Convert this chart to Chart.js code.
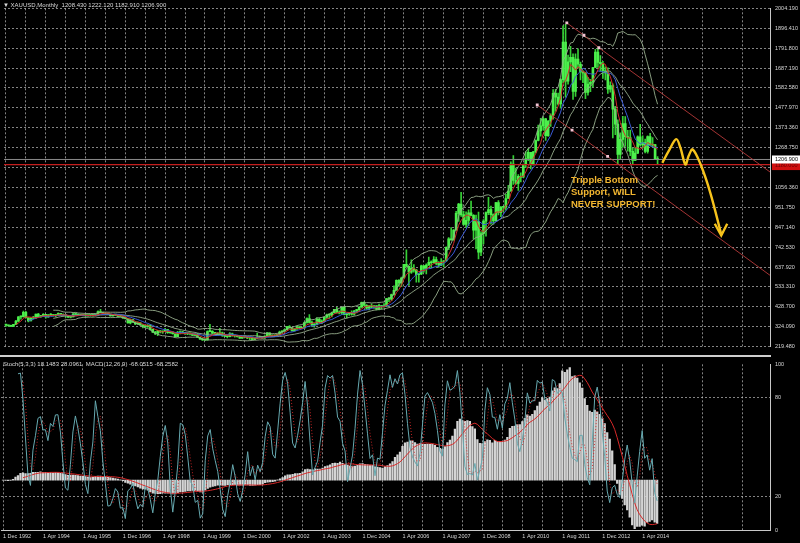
<!DOCTYPE html>
<html>
<head>
<meta charset="utf-8">
<script src="https://cdn.jsdelivr.net/npm/chart.js@4.4.1/dist/chart.umd.min.js"></script>
<style>
html, body { margin: 0; padding: 0; background: #000; }
#wrap { position: relative; width: 800px; height: 543px; background: #000; overflow: hidden; font-family: "Liberation Sans", Arial, sans-serif; }
#topChart { position: absolute; left: 0; top: 0; }
#bottomChart { position: absolute; left: 0; top: 356px; }
.hdr { position: absolute; color: #d8d8d8; font-size: 6px; line-height: 7px; white-space: pre; }
#sep { position: absolute; left: 0; top: 355px; width: 771px; height: 2px; background: #cfcfcf; }
#note { position: absolute; left: 571px; top: 174px; color: #f2b630; font-weight: bold; font-size: 9.5px; line-height: 12px; white-space: pre; }
</style>
</head>
<body>
<div id="wrap">
  <canvas id="topChart" width="800" height="355"></canvas>
  <div id="sep"></div>
  <canvas id="bottomChart" width="800" height="187"></canvas>
  <div class="hdr" style="left:3px;top:2px;">▼ XAUUSD,Monthly  1208.430 1222.120 1182.910 1206.900</div>
  <div class="hdr" style="left:3px;top:361px;">Stoch(5,3,3) 18.1483 28.0961  MACD(12,26,9) -68.0515 -68.2582</div>
  <div id="note">Tripple Bottom
Support, WILL
NEVER SUPPORT!</div>
</div>
<script>
// XAUUSD monthly, first bar = Dec 1992, last bar = Oct 2014 (open of each bar = previous close)
const firstOpen = 334;
const lastOpen = 1208.43;

const closes = [
  333, // 1992 Dec
  330, 327, 337, 354, 377, 378, 401, 372, 355, 370, 371, 391, // 1993
  378, 381, 390, 376, 387, 386, 384, 385, 395, 389, 383, 383, // 1994
  375, 377, 392, 389, 385, 387, 384, 382, 384, 383, 387, 387, // 1995
  405, 400, 396, 392, 391, 382, 386, 386, 379, 380, 371, 369, // 1996
  345, 362, 349, 340, 345, 334, 326, 325, 332, 311, 296, 290, // 1997
  303, 297, 301, 310, 293, 296, 288, 273, 294, 292, 294, 288, // 1998
  287, 287, 279, 286, 268, 261, 255, 255, 299, 300, 291, 290, // 1999
  283, 293, 277, 274, 272, 288, 276, 277, 273, 264, 270, 273, // 2000
  266, 267, 258, 263, 267, 271, 265, 273, 293, 279, 275, 278, // 2001
  282, 297, 302, 309, 326, 318, 304, 313, 324, 317, 319, 347, // 2002
  368, 348, 334, 336, 364, 346, 354, 375, 388, 386, 398, 416, // 2003
  400, 397, 427, 388, 393, 395, 391, 407, 415, 428, 453, 438, // 2004
  423, 434, 428, 435, 417, 436, 430, 433, 473, 470, 495, 517, // 2005
  569, 556, 582, 654, 643, 613, 633, 623, 599, 603, 646, 632, // 2006
  650, 665, 662, 679, 659, 650, 666, 672, 743, 789, 783, 834, // 2007
  923, 972, 916, 864, 886, 926, 912, 834, 880, 718, 816, 882, // 2008
  927, 942, 916, 883, 979, 927, 955, 955, 1001, 1040, 1182, 1096, // 2009
  1081, 1118, 1113, 1179, 1212, 1245, 1181, 1247, 1307, 1357, 1384, 1421, // 2010
  1332, 1410, 1439, 1556, 1536, 1500, 1628, 1826, 1620, 1722, 1746, 1566, // 2011
  1737, 1709, 1669, 1664, 1560, 1604, 1614, 1692, 1773, 1719, 1712, 1675, // 2012
  1663, 1578, 1596, 1472, 1393, 1234, 1313, 1396, 1327, 1323, 1250, 1202, // 2013
  1240, 1326, 1284, 1296, 1250, 1327, 1282, 1286, 1208, 1206.9 // 2014
];

const highs = [
  337,
  334, 333, 338, 358, 378, 381, 407, 406, 373, 373, 380, 392,
  395, 385, 394, 390, 389, 394, 389, 389, 398, 396, 393, 384,
  384, 380, 396, 397, 393, 391, 390, 390, 387, 387, 390, 391,
  409, 416, 402, 396, 395, 391, 389, 390, 386, 384, 382, 374,
  369, 365, 364, 350, 350, 346, 336, 331, 336, 336, 313, 300,
  306, 304, 303, 316, 311, 299, 296, 288, 301, 303, 300, 295,
  293, 291, 291, 289, 290, 270, 265, 261, 303, 338, 305, 293,
  294, 316, 297, 284, 278, 294, 291, 280, 280, 275, 272, 275,
  274, 268, 270, 266, 291, 275, 272, 278, 294, 293, 282, 282,
  284, 302, 305, 311, 327, 331, 322, 315, 327, 325, 323, 349,
  372, 389, 354, 341, 373, 371, 361, 376, 391, 393, 402, 417,
  427, 409, 428, 430, 395, 401, 409, 411, 416, 431, 455, 456,
  441, 438, 446, 437, 436, 444, 438, 447, 474, 480, 497, 541,
  572, 573, 586, 654, 730, 645, 677, 653, 627, 605, 650, 648,
  657, 692, 673, 695, 692, 669, 684, 674, 746, 795, 848, 837,
  933, 975, 1033, 934, 931, 941, 988, 916, 913, 929, 827, 890,
  931, 1007, 961, 920, 981, 990, 960, 960, 1024, 1070, 1195, 1227,
  1162, 1127, 1136, 1182, 1249, 1265, 1245, 1250, 1310, 1388, 1424, 1431,
  1424, 1412, 1447, 1576, 1577, 1557, 1632, 1912, 1920, 1758, 1803, 1764,
  1764, 1791, 1721, 1676, 1667, 1640, 1629, 1693, 1788, 1796, 1755, 1724,
  1696, 1690, 1617, 1606, 1487, 1416, 1347, 1434, 1433, 1361, 1362, 1267,
  1270, 1332, 1392, 1331, 1315, 1332, 1345, 1322, 1287, 1222.12
];

const lows = [
  326,
  326, 326, 326, 336, 352, 365, 375, 370, 350, 355, 366, 368,
  376, 374, 380, 370, 374, 383, 380, 377, 384, 385, 380, 374,
  372, 371, 376, 388, 383, 383, 382, 380, 381, 380, 381, 385,
  386, 398, 394, 388, 389, 380, 380, 384, 377, 377, 369, 366,
  344, 340, 347, 336, 337, 334, 318, 320, 321, 306, 294, 283,
  278, 292, 290, 299, 289, 290, 286, 271, 273, 287, 291, 284,
  283, 281, 277, 278, 268, 256, 253, 251, 254, 297, 288, 280,
  280, 282, 274, 272, 266, 271, 276, 270, 270, 263, 263, 268,
  262, 255, 255, 255, 263, 265, 263, 264, 272, 276, 272, 272,
  277, 282, 289, 300, 306, 318, 301, 301, 311, 313, 315, 316,
  344, 345, 326, 322, 335, 342, 341, 353, 368, 368, 377, 398,
  396, 392, 390, 387, 371, 385, 386, 386, 398, 410, 426, 433,
  416, 414, 425, 421, 414, 414, 418, 428, 431, 457, 463, 490,
  516, 538, 536, 582, 640, 543, 606, 612, 560, 560, 600, 612,
  603, 648, 636, 661, 651, 638, 647, 640, 671, 731, 781, 781,
  834, 880, 907, 860, 848, 858, 909, 786, 735, 682, 700, 761,
  802, 916, 866, 866, 883, 914, 905, 931, 940, 1001, 1040, 1075,
  1075, 1044, 1088, 1113, 1165, 1201, 1157, 1177, 1242, 1305, 1330, 1361,
  1308, 1329, 1381, 1419, 1462, 1495, 1478, 1610, 1535, 1604, 1670, 1523,
  1540, 1688, 1627, 1612, 1527, 1546, 1565, 1590, 1692, 1692, 1673, 1635,
  1626, 1555, 1562, 1321, 1338, 1180, 1208, 1271, 1276, 1251, 1227, 1182,
  1202, 1238, 1277, 1268, 1241, 1240, 1282, 1273, 1207, 1182.91
];

// time axis labels, one every 16 bars starting at bar 0
const dateLabels = ['1 Dec 1992', '1 Apr 1994', '1 Aug 1995', '1 Dec 1996', '1 Apr 1998', '1 Aug 1999',
  '1 Dec 2000', '1 Apr 2002', '1 Aug 2003', '1 Dec 2004', '1 Apr 2006', '1 Aug 2007', '1 Dec 2008',
  '1 Apr 2010', '1 Aug 2011', '1 Dec 2012', '1 Apr 2014'];

// price scale labels, bottom to top
const priceTickLabels = ['219.480', '324.090', '428.700', '533.310', '637.920', '742.530', '847.140',
  '951.750', '1056.360', '1164.140', '1268.750', '1373.360', '1477.970', '1582.580', '1687.190',
  '1791.800', '1896.410', '2004.190'];
const priceMin = 219.48, priceMax = 2004.19;

const stochLevels = [0, 20, 80, 100];

const bidPrice = 1206.9, bidLabel = '1206.900';
const supportPrice = 1180, supportLabel = '1180.000';

// drawn objects, [bar index, price]
const trendUpper = [[225.5, 1927], [232.4, 1862], [238.4, 1796], [307.2, 1141]];
const trendLower = [[213.6, 1494], [227.6, 1362], [241.9, 1223], [307.2, 596]];
const arrowPath = [[263.9, 1189], [266.5, 1252], [269.5, 1314], [271.2, 1268], [273.2, 1180],
  [274.5, 1226], [276.1, 1260], [279.2, 1184], [283.2, 1031], [287.6, 812]];
const arrowHead = [[285.0, 868], [287.6, 806], [290.0, 868]];

// ---- settings ----
const xMin = -0.8, xMax = 307.2;
const family = "'Liberation Sans', Arial, sans-serif";
const txtColor = '#d8d8d8';
const gridColor = 'rgba(195,195,195,0.68)';
const bandColor = 'rgba(150,172,140,0.9)';

const n = closes.length;
const opens = closes.map((c, i) => (i === 0 ? firstOpen : closes[i - 1]));
opens[n - 1] = lastOpen;

function sma(src, p) {
    return src.map((v, i) => {
        if (i < p - 1) return null;
        const w = src.slice(i - p + 1, i + 1);
        if (w.some(x => x === null)) return null;
        return w.reduce((a, b) => a + b, 0) / p;
    });
}

function ema(src, p) {
    const k = 2 / (p + 1);
    let e = src[0];
    return src.map((v, i) => (i === 0 ? e : (e = v * k + e * (1 - k))));
}

function bollinger(src, p, dev) {
    const mid = sma(src, p);
    const up = [], lo = [];
    src.forEach((v, i) => {
        if (mid[i] === null) { up.push(null); lo.push(null); return; }
        const w = src.slice(i - p + 1, i + 1);
        const sd = Math.sqrt(w.reduce((a, b) => a + (b - mid[i]) ** 2, 0) / p);
        up.push(mid[i] + dev * sd);
        lo.push(mid[i] - dev * sd);
    });
    return { mid, up, lo };
}

function stochastic(kp, slow, dp) {
    const main = closes.map((c, i) => {
        if (i < kp + slow - 2) return null;
        let num = 0, den = 0;
        for (let j = i - slow + 1; j <= i; j++) {
            const hh = Math.max(...highs.slice(j - kp + 1, j + 1));
            const ll = Math.min(...lows.slice(j - kp + 1, j + 1));
            num += closes[j] - ll;
            den += hh - ll;
        }
        return den ? 100 * num / den : 100;
    });
    return { main, signal: sma(main, dp) };
}

const pts = arr => arr.map((v, i) => (v === null ? null : { x: i, y: v })).filter(Boolean);
const xy = arr => arr.map(([x, y]) => ({ x, y }));

const bb = bollinger(closes, 20, 2);
const maFast = sma(closes, 5);
const maSlow = sma(closes, 10);

const e12 = ema(closes, 12), e26 = ema(closes, 26);
const macdMain = closes.map((c, i) => e12[i] - e26[i]);
const macdSignal = sma(macdMain, 9);
const st = stochastic(5, 3, 3);

const gridMonths = [];
for (let v = 0; v <= 304; v += 8) gridMonths.push(v);

function xAxis(showLabels, heightPx) {
    return {
        type: 'linear', min: xMin, max: xMax, offset: false,
        grid: { color: gridColor, lineWidth: 1, drawTicks: false, offset: false },
        border: { display: showLabels, color: '#c8c8c8', width: 1, dash: [2, 2] },
        afterBuildTicks: s => { s.ticks = gridMonths.map(v => ({ value: v })); },
        afterFit: s => { s.height = heightPx; },
        ticks: {
            display: showLabels, autoSkip: false, maxRotation: 0, align: 'start', padding: 3,
            color: txtColor, font: { size: 5.5, family },
            callback: v => (v % 16 === 0 ? dateLabels[v / 16] : '')
        }
    };
}

const priceTags = {
    id: 'priceTags',
    afterDraw(chart) {
        const { ctx } = chart;
        const y = chart.scales.y;
        const x0 = chart.chartArea.right + 2;
        ctx.save();
        ctx.font = '5.5px ' + family;
        ctx.textBaseline = 'middle';
        let py = y.getPixelForValue(supportPrice) + 1;
        ctx.fillStyle = '#d01010';
        ctx.fillRect(x0, py - 4.5, 800 - x0, 9);
        ctx.fillStyle = '#6a0000';
        ctx.fillText(supportLabel, x0 + 3, py);
        py = y.getPixelForValue(bidPrice);
        ctx.fillStyle = '#ffffff';
        ctx.fillRect(x0, py - 4, 800 - x0, 8);
        ctx.fillStyle = '#000000';
        ctx.fillText(bidLabel, x0 + 3, py);
        ctx.restore();
    }
};

const noPoints = { pointRadius: 0, pointHoverRadius: 0 };

new Chart(document.getElementById('topChart'), {
    type: 'bar',
    data: {
        datasets: [
            { type: 'line', data: xy(trendUpper), borderColor: 'rgba(190,60,60,0.85)', borderWidth: 1,
              pointRadius: [2, 2, 2, 0], pointStyle: 'rect', pointBackgroundColor: '#f3c4d4', pointBorderWidth: 0, order: 0 },
            { type: 'line', data: xy(trendLower), borderColor: 'rgba(190,60,60,0.85)', borderWidth: 1,
              pointRadius: [2, 2, 2, 0], pointStyle: 'rect', pointBackgroundColor: '#f3c4d4', pointBorderWidth: 0, order: 0 },
            { type: 'line', data: xy(arrowPath), borderColor: '#f7c31c', borderWidth: 2.4, tension: 0.35, ...noPoints, order: 0 },
            { type: 'line', data: xy(arrowHead), borderColor: '#f7c31c', borderWidth: 2.4, ...noPoints, order: 0 },
            { type: 'line', data: [{ x: xMin, y: supportPrice }, { x: xMax, y: supportPrice }], borderColor: '#c41e1e', borderWidth: 1.2, ...noPoints, order: 1 },
            { type: 'line', data: [{ x: xMin, y: bidPrice }, { x: xMax, y: bidPrice }], borderColor: '#8a8a8a', borderWidth: 1, ...noPoints, order: 1 },
            { type: 'line', data: pts(maFast), borderColor: '#d42a2a', borderWidth: 1, ...noPoints, order: 2 },
            { type: 'line', data: pts(maSlow), borderColor: '#3a5ad8', borderWidth: 1, ...noPoints, order: 2 },
            { type: 'line', data: pts(bb.up), borderColor: bandColor, borderWidth: 1, ...noPoints, order: 3 },
            { type: 'line', data: pts(bb.mid), borderColor: bandColor, borderWidth: 1, ...noPoints, order: 3 },
            { type: 'line', data: pts(bb.lo), borderColor: bandColor, borderWidth: 1, ...noPoints, order: 3 },
            { data: closes.map((c, i) => ({ x: i, y: [lows[i], highs[i]] })), backgroundColor: '#36d036',
              barThickness: 1, grouped: false, borderWidth: 0, order: 5 },
            { data: closes.map((c, i) => ({ x: i, y: [opens[i], c] })), backgroundColor: '#4cf04c',
              barThickness: 2, grouped: false, borderWidth: 0, minBarLength: 1, order: 4 }
        ]
    },
    options: {
        responsive: false, animation: false, events: [],
        layout: { padding: { top: 2, bottom: 2, left: 0, right: 0 } },
        plugins: { legend: { display: false }, tooltip: { enabled: false } },
        scales: {
            x: xAxis(false, 0),
            y: {
                type: 'linear', position: 'right', min: priceMin, max: priceMax,
                grid: { color: gridColor, lineWidth: 1, drawTicks: false },
                border: { display: true, color: '#c8c8c8', width: 1, dash: [2, 2] },
                afterBuildTicks: s => {
                    s.ticks = priceTickLabels.map((t, k) => ({ value: priceMin + k * (priceMax - priceMin) / (priceTickLabels.length - 1) }));
                },
                afterFit: s => { s.width = 30; },
                ticks: { autoSkip: false, padding: 5, color: txtColor, font: { size: 5.5, family },
                         callback: (v, idx) => priceTickLabels[idx] }
            }
        }
    },
    plugins: [priceTags]
});

const macdHi = Math.max(...macdMain), macdLo = Math.min(...macdMain);

new Chart(document.getElementById('bottomChart'), {
    type: 'bar',
    data: {
        datasets: [
            { type: 'line', data: pts(st.main), yAxisID: 'y', borderColor: '#66a9b0', borderWidth: 1, ...noPoints, order: 0 },
            { type: 'line', data: pts(st.signal), yAxisID: 'y', borderColor: 'rgba(210,40,40,0.9)', borderWidth: 1, borderDash: [1, 2], ...noPoints, order: 0 },
            { type: 'line', data: pts(macdSignal), yAxisID: 'yM', borderColor: '#d82828', borderWidth: 1, ...noPoints, order: 1 },
            { data: pts(macdMain), yAxisID: 'yM', backgroundColor: '#d4d4d4', barThickness: 1.6, grouped: false, borderWidth: 0, order: 3 }
        ]
    },
    options: {
        responsive: false, animation: false, events: [],
        layout: { padding: { top: 6, bottom: 0, left: 0, right: 0 } },
        plugins: { legend: { display: false }, tooltip: { enabled: false } },
        scales: {
            x: xAxis(true, 13),
            y: {
                type: 'linear', position: 'right', min: 0, max: 100,
                grid: { color: c => (c.tick && (c.tick.value === 20 || c.tick.value === 80) ? gridColor : 'rgba(0,0,0,0)'), drawTicks: false },
                border: { display: true, color: '#c8c8c8', width: 1, dash: [2, 2] },
                afterBuildTicks: s => { s.ticks = stochLevels.map(v => ({ value: v })); },
                afterFit: s => { s.width = 30; },
                ticks: { autoSkip: false, padding: 5, color: txtColor, font: { size: 5.5, family } }
            },
            yM: { type: 'linear', display: false, min: macdLo * 1.03, max: macdHi * 1.03 }
        }
    }
});
</script>
</body>
</html>
